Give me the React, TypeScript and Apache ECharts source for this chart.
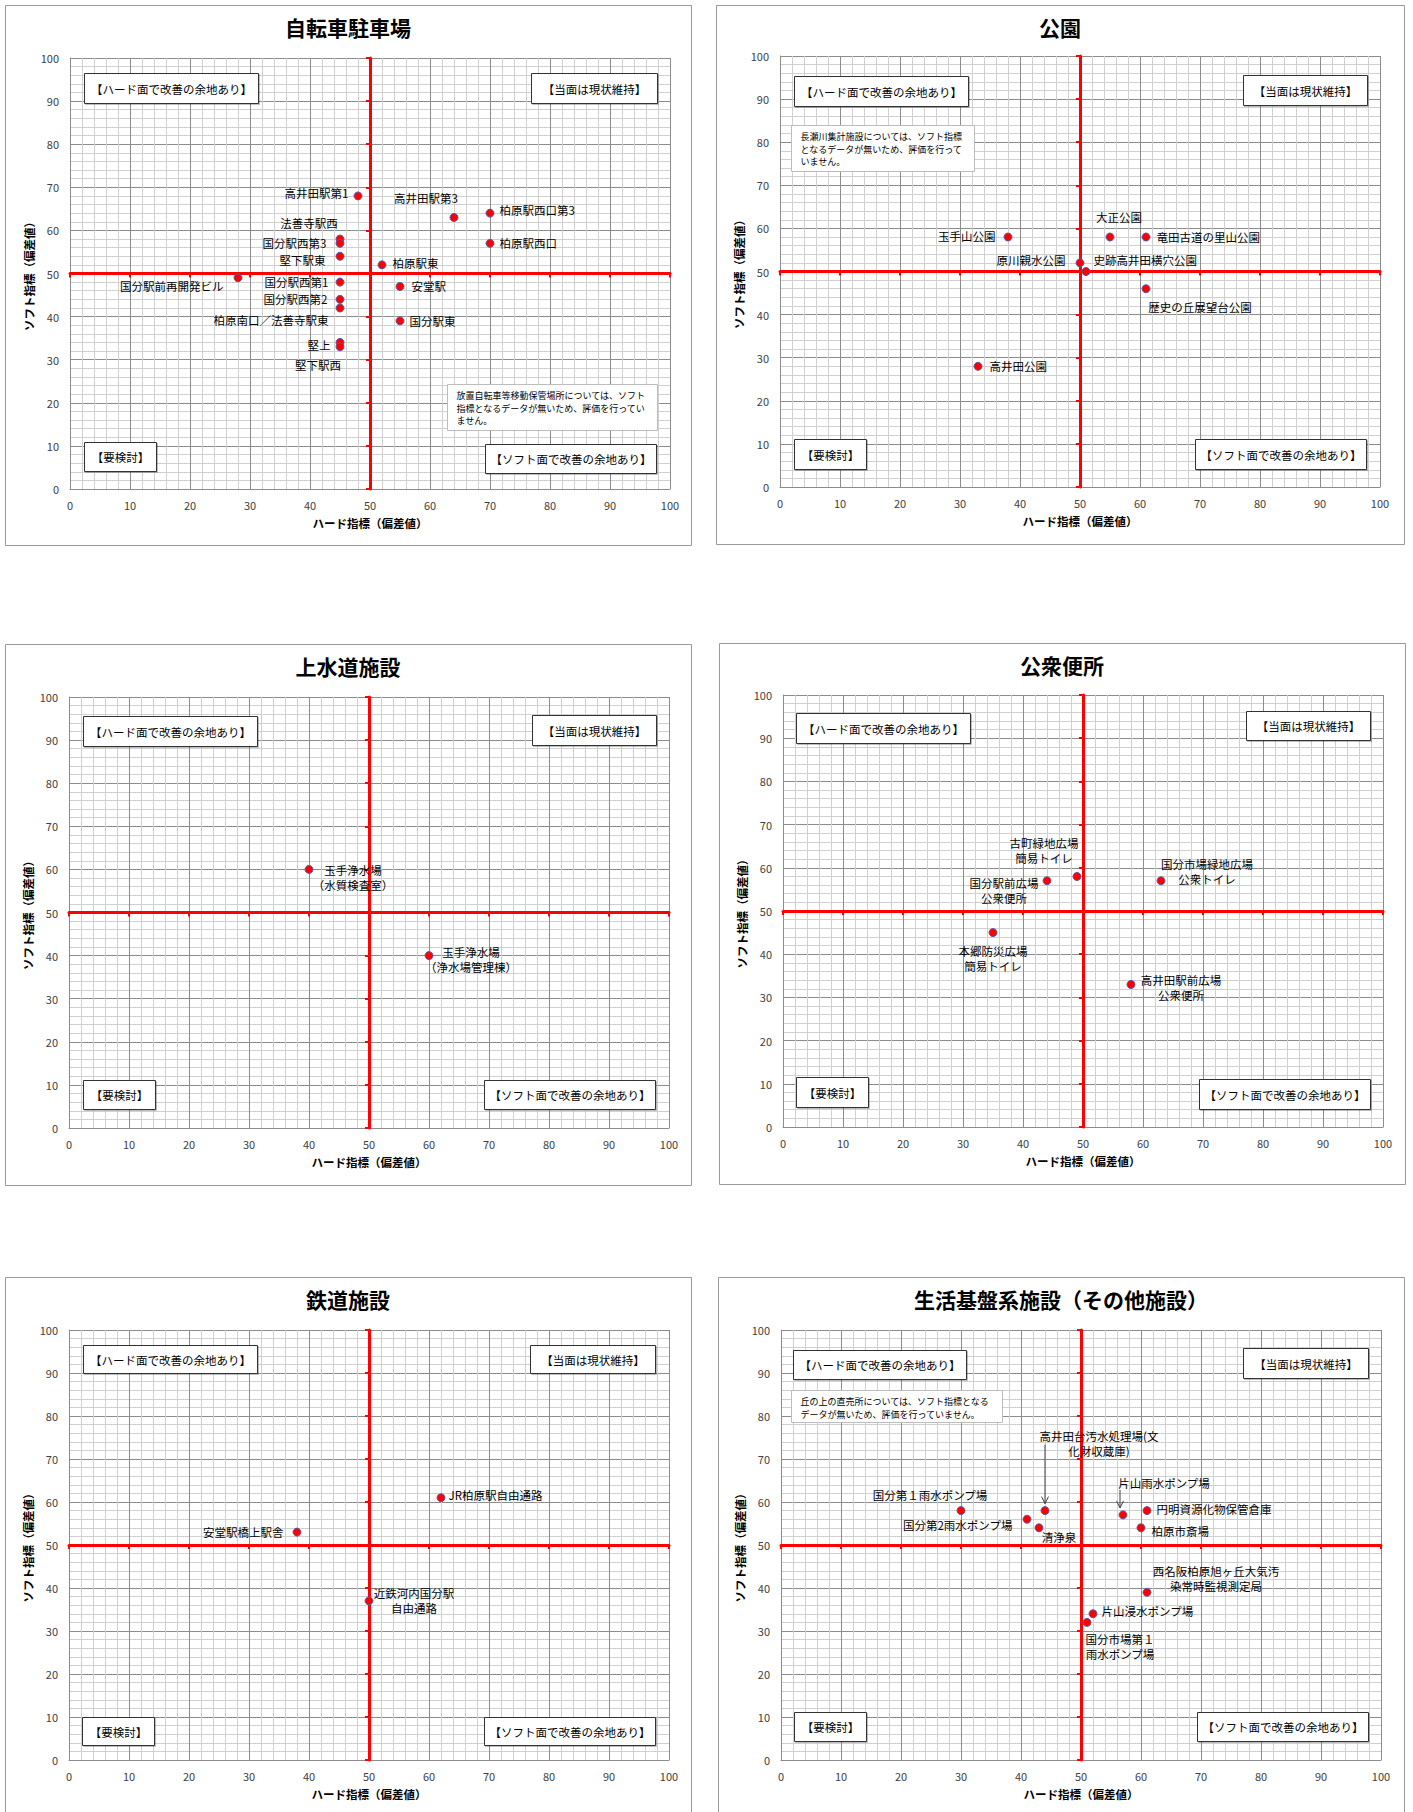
import React, { useEffect, useRef } from "react";
import * as echarts from "echarts";

const FONT = '"Noto Sans CJK JP", "Noto Sans", sans-serif';

const quadrantTexts = ["【ハード面で改善の余地あり】", "【当面は現状維持】", "【要検討】", "【ソフト面で改善の余地あり】"];
const xTitle = "ハード指標（偏差値）";
const yTitle = "ソフト指標（偏差値）";
const axisMin = 0;
const axisMax = 100;
const axisStep = 10;
const minorSplits = 5;

// ---- 自転車駐車場 ----
const bikeTitle = "自転車駐車場";
const bikeNames = ["高井田駅第1", "高井田駅第3", "柏原駅西口第3", "法善寺駅西", "国分駅西第3", "堅下駅東", "柏原駅西口", "柏原駅東", "国分駅前再開発ビル", "国分駅西第1", "国分駅西第2", "柏原南口／法善寺駅東", "安堂駅", "国分駅東", "堅上", "堅下駅西"];
const bikeHard = [48, 64, 70, 45, 45, 45, 70, 52, 28, 45, 45, 45, 55, 55, 45, 45];
const bikeSoft = [68, 63, 64, 58, 57, 54, 57, 52, 49, 48, 44, 42, 47, 39, 34, 33];
const bikeNote = "放置自転車等移動保管場所については、ソフト\n指標となるデータが無いため、評価を行ってい\nません。";

// ---- 公園 ----
const parkTitle = "公園";
const parkNames = ["玉手山公園", "大正公園", "竜田古道の里山公園", "原川親水公園", "史跡高井田横穴公園", "歴史の丘展望台公園", "高井田公園"];
const parkHard = [38, 55, 61, 50, 51, 61, 33];
const parkSoft = [58, 58, 58, 52, 50, 46, 28];
const parkNote = "長瀬川集計施設については、ソフト指標\nとなるデータが無いため、評価を行って\nいません。";

// ---- 上水道施設 ----
const waterTitle = "上水道施設";
const waterNames = ["玉手浄水場\n（水質検査室）", "玉手浄水場\n（浄水場管理棟）"];
const waterHard = [40, 60];
const waterSoft = [60, 40];

// ---- 公衆便所 ----
const toiletTitle = "公衆便所";
const toiletNames = ["古町緑地広場\n簡易トイレ", "国分駅前広場\n公衆便所", "国分市場緑地広場\n公衆トイレ", "本郷防災広場\n簡易トイレ", "高井田駅前広場\n公衆便所"];
const toiletHard = [49, 44, 63, 35, 58];
const toiletSoft = [58, 57, 57, 45, 33];

// ---- 鉄道施設 ----
const railTitle = "鉄道施設";
const railNames = ["JR柏原駅自由通路", "安堂駅橋上駅舎", "近鉄河内国分駅\n自由通路"];
const railHard = [62, 38, 50];
const railSoft = [61, 53, 37];

// ---- 生活基盤系施設（その他施設） ----
const otherTitle = "生活基盤系施設（その他施設）";
const otherNames = ["国分第１雨水ポンプ場", "国分第2雨水ポンプ場", "清浄泉", "高井田台汚水処理場(文\n化財収蔵庫)", "片山雨水ポンプ場", "円明資源化物保管倉庫", "柏原市斎場", "西名阪柏原旭ヶ丘大気汚\n染常時監視測定局", "片山浸水ポンプ場", "国分市場第１\n雨水ポンプ場"];
const otherHard = [30, 41, 43, 44, 57, 61, 60, 61, 52, 51];
const otherSoft = [58, 56, 54, 58, 57, 58, 54, 39, 34, 32];
const otherNote = "丘の上の直売所については、ソフト指標となる\nデータが無いため、評価を行っていません。";

// ---- layout (label placement: side, dx, dy in px) ----
type Place = [string, number, number];
const bikePlace: Place[] = [["l", 0, -3], ["t", -28, -2], ["r", 0, -3], ["t", -31, 1], ["l", -4, 0], ["l", -5, 4], ["r", 0, 0], ["r", 1, -2], ["l", -5, 8], ["l", -2, 0], ["l", -3, 0], ["l", -2, 12], ["r", 2, 0], ["r", 0, 0], ["l", 0, 3], ["b", -22, 1]];
const parkPlace: Place[] = [["l", -3, -1], ["t", 9, -3], ["r", 1, 0], ["l", -5, -3], ["r", -2, -12], ["b", 54, 1], ["r", 2, 0]];
const waterPlace: Place[] = [["c", 44, 8], ["c", 42, 4]];
const toiletPlace: Place[] = [["c", -33, -26], ["c", -43, 10], ["c", 46, -9], ["c", 0, 26], ["c", 50, 3]];
const railPlace: Place[] = [["r", -2, -3], ["l", -4, 0], ["c", 45, 0]];
const otherPlace: Place[] = [["c", -31, -16], ["l", -5, 6], ["c", 20, 9], ["c", 54, -67], ["c", 41, -32], ["r", 0, -2], ["r", 1, 3], ["c", 69, -14], ["r", -1, -3], ["c", 33, 24]];
// arrows: point index, dx, dy start, dy end (px)
const otherArrows = [[3, 0, -66, -7], [4, -3, -25, -7]];

interface Panel {
  title: string;
  names: string[];
  hard: number[];
  soft: number[];
  place: Place[];
  plot: number[];
  frame: number[];
  boxes: number[][];
  note?: { text: string; rect: number[] };
  arrows?: number[][];
}

const panels: Panel[] = [
  {
    title: bikeTitle, names: bikeNames, hard: bikeHard, soft: bikeSoft, place: bikePlace,
    plot: [70, 58, 600, 431], frame: [5, 5, 686, 540],
    boxes: [[0.024, 0.313, 0.034, 0.104], [0.769, 0.978, 0.034, 0.104], [0.024, 0.143, 0.890, 0.959], [0.692, 0.976, 0.896, 0.963]],
    note: { text: bikeNote, rect: [0.628, 0.978, 0.756, 0.863] },
  },
  {
    title: parkTitle, names: parkNames, hard: parkHard, soft: parkSoft, place: parkPlace,
    plot: [780, 56, 600, 431], frame: [716, 5, 688, 539],
    boxes: [[0.023, 0.313, 0.047, 0.115], [0.771, 0.978, 0.045, 0.114], [0.023, 0.144, 0.889, 0.958], [0.692, 0.976, 0.889, 0.958]],
    note: { text: parkNote, rect: [0.019, 0.323, 0.159, 0.267] },
  },
  {
    title: waterTitle, names: waterNames, hard: waterHard, soft: waterSoft, place: waterPlace,
    plot: [69, 697, 600, 431], frame: [5, 644, 686, 541],
    boxes: [[0.024, 0.313, 0.045, 0.114], [0.771, 0.979, 0.042, 0.111], [0.024, 0.143, 0.888, 0.957], [0.692, 0.977, 0.888, 0.957]],
  },
  {
    title: toiletTitle, names: toiletNames, hard: toiletHard, soft: toiletSoft, place: toiletPlace,
    plot: [783, 695, 600, 432], frame: [719, 643, 686, 541],
    boxes: [[0.022, 0.311, 0.041, 0.110], [0.771, 0.979, 0.036, 0.105], [0.022, 0.142, 0.884, 0.953], [0.693, 0.978, 0.888, 0.958]],
  },
  {
    title: railTitle, names: railNames, hard: railHard, soft: railSoft, place: railPlace,
    plot: [69, 1330, 600, 430], frame: [5, 1277, 686, 560],
    boxes: [[0.024, 0.313, 0.035, 0.100], [0.769, 0.977, 0.035, 0.100], [0.021, 0.141, 0.901, 0.966], [0.692, 0.976, 0.901, 0.966]],
  },
  {
    title: otherTitle, names: otherNames, hard: otherHard, soft: otherSoft, place: otherPlace,
    plot: [781, 1330, 600, 430], frame: [718, 1277, 686, 560],
    boxes: [[0.020, 0.308, 0.047, 0.113], [0.770, 0.978, 0.043, 0.111], [0.021, 0.142, 0.888, 0.956], [0.693, 0.978, 0.888, 0.956]],
    note: { text: otherNote, rect: [0.017, 0.368, 0.139, 0.215] },
    arrows: otherArrows,
  },
];

const sideMap: Record<string, string> = { l: "left", r: "right", t: "top", b: "bottom", c: "inside" };

function labelFor(p: Place) {
  return {
    show: true,
    position: sideMap[p[0]],
    offset: [p[1], p[2]],
    formatter: "{b}",
    color: "#000",
    fontSize: 11.5,
    fontFamily: FONT,
    lineHeight: 15,
    align: p[0] === "c" || p[0] === "t" || p[0] === "b" ? "center" : undefined,
    textBorderWidth: 0,
  };
}

function mainAxis(i: number, isX: boolean) {
  return {
    type: "value",
    gridIndex: i,
    position: isX ? "bottom" : "left",
    min: axisMin,
    max: axisMax,
    interval: axisStep,
    axisLine: { show: true, onZero: false, lineStyle: { color: "#8c8c8c", width: 1 } },
    axisTick: { show: false },
    axisLabel: { show: true, color: "#404040", fontSize: 11, fontFamily: FONT, margin: isX ? 10 : 11 },
    splitLine: { show: true, lineStyle: { color: "#8c8c8c", width: 1 } },
    minorTick: { show: false, splitNumber: minorSplits },
    minorSplitLine: { show: true, lineStyle: { color: "#d0d0d0", width: 1 } },
  };
}

function redAxis(i: number, isX: boolean, half: number) {
  return {
    type: "value",
    gridIndex: i,
    position: isX ? "bottom" : "left",
    offset: -half,
    min: axisMin,
    max: axisMax,
    interval: axisStep,
    z: 3,
    axisLine: { show: true, onZero: false, lineStyle: { color: "#ff0000", width: 3 } },
    axisTick: { show: true, length: 4, lineStyle: { color: "#ff0000", width: 2 } },
    axisLabel: { show: false },
    splitLine: { show: false },
  };
}

export default function App() {
  const ref = useRef<HTMLDivElement>(null);
  useEffect(() => {
    document.body.style.margin = "0";
    const chart = echarts.init(ref.current as HTMLDivElement, null, { renderer: "svg" });
    const grids: any[] = [];
    const xAxes: any[] = [];
    const yAxes: any[] = [];
    const series: any[] = [];
    panels.forEach((p, i) => {
      const [l, t, w, h] = p.plot;
      grids.push({ left: l, top: t, width: w, height: h, containLabel: false, outerBoundsMode: "none" });
      xAxes.push(mainAxis(i, true), redAxis(i, true, h / 2));
      yAxes.push(mainAxis(i, false), redAxis(i, false, w / 2));
      series.push({
        type: "scatter",
        xAxisIndex: 2 * i,
        yAxisIndex: 2 * i,
        symbol: "circle",
        symbolSize: 8,
        z: 5,
        itemStyle: { color: "#ff0000", borderColor: "#5a5aa8", borderWidth: 1, opacity: 1 },
        emphasis: { disabled: true },
        data: p.names.map((n, k) => ({ name: n, value: [p.hard[k], p.soft[k]], label: labelFor(p.place[k]) })),
      });
    });
    chart.setOption({
      animation: false,
      backgroundColor: "#ffffff",
      grid: grids,
      xAxis: xAxes,
      yAxis: yAxes,
      series,
    });

    const els: any[] = [];
    panels.forEach((p, i) => {
      const [l, t, w, h] = p.plot;
      const [fx, fy, fw, fh] = p.frame;
      els.push({
        type: "rect", z: 0, silent: true,
        shape: { x: fx + 0.5, y: fy + 0.5, width: fw, height: fh },
        style: { fill: "none", stroke: "#9a9a9a", lineWidth: 1 },
      });
      els.push({
        type: "text", z: 100, x: fx + fw / 2, y: fy + 22,
        style: { text: p.title, fontSize: 21, fontWeight: "bold", fontFamily: FONT, fill: "#000", align: "center", verticalAlign: "middle", textAlign: "center", textVerticalAlign: "middle" },
      });
      els.push({
        type: "text", z: 100, x: l + w / 2, y: t + h + 34,
        style: { text: xTitle, fontSize: 11.5, fontWeight: "bold", fontFamily: FONT, fill: "#000", align: "center", verticalAlign: "middle", textAlign: "center", textVerticalAlign: "middle" },
      });
      els.push({
        type: "text", z: 100, x: l - 41, y: t + h / 2, rotation: Math.PI / 2,
        style: { text: yTitle, fontSize: 11.5, fontWeight: "bold", fontFamily: FONT, fill: "#000", align: "center", verticalAlign: "middle", textAlign: "center", textVerticalAlign: "middle" },
      });
      p.boxes.forEach((b, k) => {
        const x0 = Math.round(l + b[0] * w) + 0.5;
        const x1 = Math.round(l + b[1] * w) + 0.5;
        const y0 = Math.round(t + b[2] * h) + 0.5;
        const y1 = Math.round(t + b[3] * h) + 0.5;
        els.push({
          type: "rect", z: 90, silent: true,
          shape: { x: x0, y: y0, width: x1 - x0, height: y1 - y0 },
          style: { fill: "#ffffff", stroke: "#333333", lineWidth: 1, shadowColor: "rgba(0,0,0,0.25)", shadowOffsetX: 1, shadowOffsetY: 1, shadowBlur: 1 },
        });
        els.push({
          type: "text", z: 91, x: (x0 + x1) / 2, y: (y0 + y1) / 2,
          style: { text: quadrantTexts[k], fontSize: 11.5, fontFamily: FONT, fill: "#000", align: "center", verticalAlign: "middle", textAlign: "center", textVerticalAlign: "middle" },
        });
      });
      if (p.note) {
        const r = p.note.rect;
        const x0 = Math.round(l + r[0] * w) + 0.5;
        const x1 = Math.round(l + r[1] * w) + 0.5;
        const y0 = Math.round(t + r[2] * h) + 0.5;
        const y1 = Math.round(t + r[3] * h) + 0.5;
        els.push({
          type: "rect", z: 90, silent: true,
          shape: { x: x0, y: y0, width: x1 - x0, height: y1 - y0 },
          style: { fill: "#ffffff", stroke: "#bdbdbd", lineWidth: 1 },
        });
        els.push({
          type: "text", z: 91, x: x0 + 9, y: y0 + 5,
          style: { text: p.note.text, fontSize: 9, lineHeight: 12.5, fontFamily: FONT, fill: "#000", align: "left", verticalAlign: "top", textAlign: "left", textVerticalAlign: "top" },
        });
      }
      if (p.arrows) {
        p.arrows.forEach((a) => {
          const idx = a[0];
          const pt = chart.convertToPixel({ seriesIndex: i }, [p.hard[idx], p.soft[idx]]) as number[];
          const ax = pt[0] + a[1];
          const ys = pt[1] + a[2];
          const ye = pt[1] + a[3];
          els.push({
            type: "line", z: 95, silent: true,
            shape: { x1: ax, y1: ys, x2: ax, y2: ye },
            style: { stroke: "#404040", lineWidth: 1 },
          });
          els.push({
            type: "polyline", z: 95, silent: true,
            shape: { points: [[ax - 3.5, ye - 7], [ax, ye], [ax + 3.5, ye - 7]] },
            style: { stroke: "#404040", lineWidth: 1, fill: "none" },
          });
        });
      }
    });
    chart.setOption({ graphic: { elements: els } });
    return () => chart.dispose();
  }, []);
  return <div ref={ref} style={{ width: 1413, height: 1812 }} />;
}
